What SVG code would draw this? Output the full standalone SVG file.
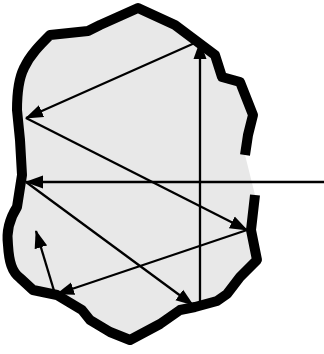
<svg xmlns="http://www.w3.org/2000/svg" width="324" height="354" viewBox="0 0 324 354">
<style>
.outline{fill:none;stroke:#000;stroke-width:10;stroke-linejoin:round;stroke-linecap:butt}
.ray{stroke:#000;stroke-width:2.3;fill:none;marker-end:url(#ah)}
</style>
<defs>
<marker id="ah" markerUnits="userSpaceOnUse" markerWidth="18" markerHeight="14" viewBox="0 0 18 14" refX="17" refY="7" orient="auto">
<path d="M0,0.5 L18,7 L0,13.5 Z" fill="#000"/>
</marker>
</defs>
<g id="body">
<path d="M245,155 L248,135 L253,115 L240,82 L222,77 L215,55 L195,40 L175,25 L138,8 L100,25 L88,31 L50,35 C40,45 30,55 24,68 C18,80 17,95 17,110 L20,140 L22,175 L17,207 C10,218 6,230 8,245 C9,262 12,272 20,278 L33,290 L57,295 L82,310 L90,320 L110,332 L130,340 L160,324 L180,310 L195,307 L217,301 L227,294 L240,277 L257,260 L251,230 L255,195 Z" fill="#e8e8e8" stroke="none"/>
<path class="outline" d="M245,155 L248,135 L253,115 L240,82 L222,77 L215,55 L195,40 L175,25 L138,8 L100,25 L88,31 L50,35 C40,45 30,55 24,68 C18,80 17,95 17,110 L20,140 L22,175 L17,207 C10,218 6,230 8,245 C9,262 12,272 20,278 L33,290 L57,295 L82,310 L90,320 L110,332 L130,340 L160,324 L180,310 L195,307 L217,301 L227,294 L240,277 L257,260 L251,230 L255,195"/>
</g>
<g id="connectors">
<line class="ray" x1="324" y1="182" x2="26" y2="182"/>
<line class="ray" x1="26" y1="182" x2="193" y2="305"/>
<line class="ray" x1="200" y1="305" x2="200" y2="42"/>
<line class="ray" x1="197" y1="42" x2="26" y2="118"/>
<line class="ray" x1="26" y1="118" x2="247" y2="230"/>
<line class="ray" x1="247" y1="230" x2="57" y2="294"/>
<line class="ray" x1="55" y1="294" x2="36" y2="231"/>
</g>
</svg>
